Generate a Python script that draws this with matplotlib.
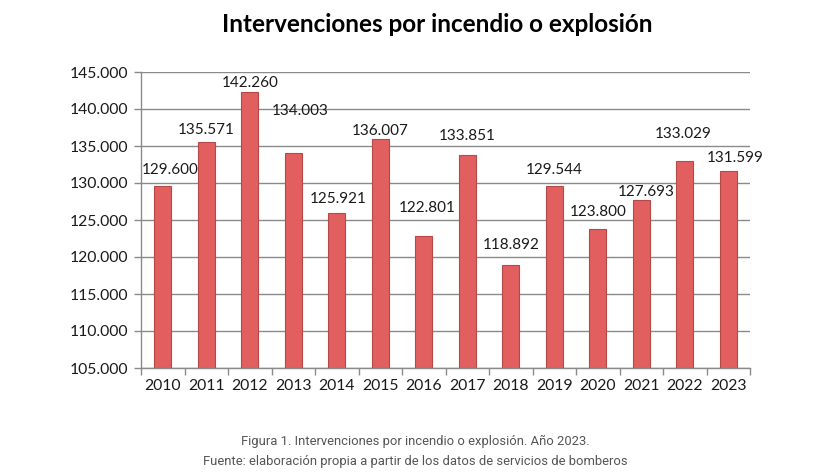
import matplotlib
matplotlib.use("Agg")
import matplotlib.pyplot as plt
import numpy as np
from matplotlib.ticker import FuncFormatter, FixedLocator

years = ["2010", "2011", "2012", "2013", "2014", "2015", "2016",
         "2017", "2018", "2019", "2020", "2021", "2022", "2023"]
values = [129600, 135571, 142260, 134003, 125921, 136007, 122801,
          133851, 118892, 129544, 123800, 127693, 133029, 131599]
value_labels = ["129.600", "135.571", "142.260", "134.003", "125.921", "136.007", "122.801",
                "133.851", "118.892", "129.544", "123.800", "127.693", "133.029", "131.599"]
# label placement offsets (pixels, label centre above bar top) as drawn in the original
label_dy = [16, 12, 9, 42, 14, 8, 28, 19, 20, 16, 17, 8, 27, 13]
label_dx = [7, 0, 0, 7, 1, 0, 3, 0, 0, 0, 0, 5, -2, 7]

title = "Intervenciones por incendio o explosión"
caption1 = "Figura 1. Intervenciones por incendio o explosión. Año 2023."
caption2 = "Fuente: elaboración propia a partir de los datos de servicios de bomberos"

W, H, DPI = 833, 476, 100
fig = plt.figure(figsize=(W / DPI, H / DPI), dpi=DPI)
ax = fig.add_axes([141 / W, 1 - 368 / H, (750 - 141) / W, (368 - 72) / H])

x = np.arange(len(years))
ax.bar(x, [v - 105000 for v in values], bottom=105000, width=0.4,
       color="#E25F5F", edgecolor="#B54947", linewidth=0.8, zorder=3)

ax.set_xlim(-0.5, len(years) - 0.5)
ax.set_ylim(105000, 145000)
ax.yaxis.set_major_locator(FixedLocator(np.arange(105000, 145001, 5000)))
ax.yaxis.set_major_formatter(FuncFormatter(lambda v, p: f"{int(v):,}".replace(",", ".")))
ax.grid(axis="y", color="#8A8A8A", linewidth=1.0, zorder=0)
ax.set_axisbelow(True)

ax.set_xticks(x)
ax.set_xticklabels(years)
ax.set_xticks(np.arange(-0.5, len(years), 1.0), minor=True)
ax.tick_params(axis="x", which="major", length=0, pad=8)
ax.tick_params(axis="x", which="minor", length=5, color="#8A8A8A", width=1)
ax.tick_params(axis="y", which="major", length=5, color="#8A8A8A", width=1, pad=4)

font = "Lato"
for lab in ax.get_xticklabels() + ax.get_yticklabels():
    lab.set_fontfamily(font)
    lab.set_fontsize(11.3)
    lab.set_color("#1a1a1a")

for s in ["top", "right"]:
    ax.spines[s].set_visible(False)
for s in ["left", "bottom"]:
    ax.spines[s].set_color("#8A8A8A")
    ax.spines[s].set_linewidth(1.0)

for xi, v, t, dy, dx in zip(x, values, value_labels, label_dy, label_dx):
    ax.annotate(t, (xi, v), xytext=(dx * 0.72, dy * 0.72), textcoords="offset points",
                ha="center", va="center", fontsize=11, fontfamily=font, color="#1a1a1a")

fig.text(437 / W, 1 - 25 / H, title, ha="center", va="center",
         fontsize=17.5, fontweight="bold", fontfamily=font, color="#000000")
fig.text(415 / W, 1 - 441 / H, caption1, ha="center", va="center",
         fontsize=9.4, fontfamily="Roboto", color="#555555")
fig.text(415 / W, 1 - 462 / H, caption2, ha="center", va="center",
         fontsize=9.4, fontfamily="Roboto", color="#555555")

fig.savefig("out.png", dpi=DPI)
